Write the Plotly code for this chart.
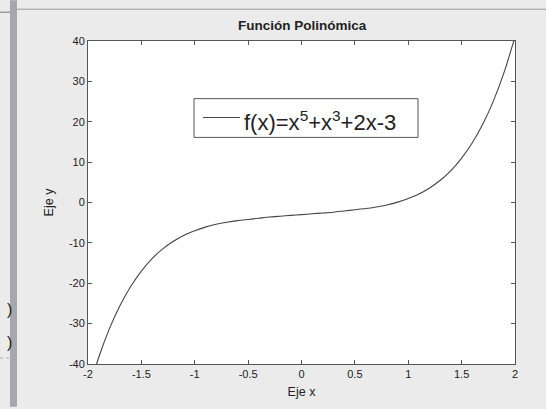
import plotly.graph_objects as go

# values
x_vals = [-2.0, -1.9, -1.8, -1.7, -1.6, -1.5, -1.4, -1.3, -1.2, -1.1, -1.0,
          -0.9, -0.8, -0.7, -0.6, -0.5, -0.4, -0.3, -0.2, -0.1, 0.0,
          0.1, 0.2, 0.3, 0.4, 0.5, 0.6, 0.7, 0.8, 0.9, 1.0,
          1.1, 1.2, 1.3, 1.4, 1.5, 1.6, 1.7, 1.8, 1.9, 2.0]
y_vals = [-47.0, -38.4, -31.3, -25.5, -20.8, -17.0, -13.9, -11.5, -9.6, -8.1, -7.0,
          -6.1, -5.4, -4.9, -4.5, -4.2, -3.9, -3.6, -3.4, -3.2, -3.0,
          -2.8, -2.6, -2.4, -2.1, -1.8, -1.5, -1.1, -0.6, 0.1, 1.0,
          2.1, 3.6, 5.5, 7.9, 11.0, 14.8, 19.5, 25.3, 32.4, 41.0]
x_ticks = [-2, -1.5, -1, -0.5, 0, 0.5, 1, 1.5, 2]
y_ticks = [-40, -30, -20, -10, 0, 10, 20, 30, 40]

W, H = 546, 409
L, R, T, B = 88, 515, 41, 366
def px(v):
    return (v - L) / (R - L)
def py(v):
    return (B - v) / (B - T)

FONT = "Arial, Liberation Sans"

fig = go.Figure()
fig.add_trace(go.Scatter(x=x_vals, y=y_vals, mode="lines",
                         line=dict(color="#444444", width=1.1, shape="spline", smoothing=0.6),
                         showlegend=False, cliponaxis=True))

axis_common = dict(showgrid=False, zeroline=False, showline=True, mirror="ticks",
                   linecolor="#555555", linewidth=1, ticks="inside", ticklen=4,
                   tickcolor="#555555", tickfont=dict(family=FONT, size=11, color="#222222"))
fig.update_xaxes(range=[-2, 2], tickvals=x_ticks, ticktext=[f"{t:g}" for t in x_ticks],
                 title=dict(text="Eje x", font=dict(family=FONT, size=12.5, color="#222222"), standoff=8),
                 **axis_common)
fig.update_yaxes(range=[-40, 40], tickvals=y_ticks, ticktext=[str(t) for t in y_ticks],
                 title=dict(text="Eje y", font=dict(family=FONT, size=12.5, color="#222222"), standoff=12),
                 **axis_common)

shapes = [
    dict(type="rect", xref="paper", yref="paper", x0=px(10), x1=px(17), y0=py(409), y1=py(0),
         fillcolor="#a6a6ae", line=dict(width=0), layer="below"),
    dict(type="line", xref="paper", yref="paper", x0=px(17), x1=px(546), y0=py(9), y1=py(9),
         line=dict(color="#9a9a9a", width=1), layer="below"),
    dict(type="line", xref="paper", yref="paper", x0=px(0), x1=px(10), y0=py(12), y1=py(12),
         line=dict(color="#777777", width=1), layer="below"),
    dict(type="rect", xref="paper", yref="paper", x0=px(194), x1=px(418), y0=py(138), y1=py(99),
         fillcolor="white", line=dict(color="#555555", width=1)),
    dict(type="line", xref="paper", yref="paper", x0=px(203), x1=px(240), y0=py(118), y1=py(118),
         line=dict(color="#444444", width=1.1)),
    dict(type="line", xref="paper", yref="paper", x0=px(0), x1=px(12), y0=py(360), y1=py(360),
         line=dict(color="#aaaaaa", width=1, dash="dot"), layer="below"),
]

annotations = [
    dict(text="<b>Función Polinómica</b>", xref="paper", yref="paper", x=px(302), y=py(25),
         yanchor="middle", showarrow=False, font=dict(family=FONT, size=13.5, color="#222222")),
    dict(text="f(x)=x<sup>5</sup>+x<sup>3</sup>+2x-3", xref="paper", yref="paper",
         x=px(242), y=py(121), xanchor="left", yanchor="middle", showarrow=False,
         font=dict(family=FONT, size=22, color="#222222")),
    dict(text=")", xref="paper", yref="paper", x=px(5), y=py(322), showarrow=False,
         font=dict(family=FONT, size=16, color="#222222")),
    dict(text=")", xref="paper", yref="paper", x=px(5), y=py(355), showarrow=False,
         font=dict(family=FONT, size=16, color="#222222")),
]

fig.update_layout(width=W, height=H, margin=dict(l=L, r=W - R, t=T, b=H - B, pad=0),
                  paper_bgcolor="#ebebeb", plot_bgcolor="white",
                  shapes=shapes, annotations=annotations, showlegend=False)

fig.write_html("out.html", config={"displayModeBar": False},
               post_script="document.body.style.margin='0px';")
